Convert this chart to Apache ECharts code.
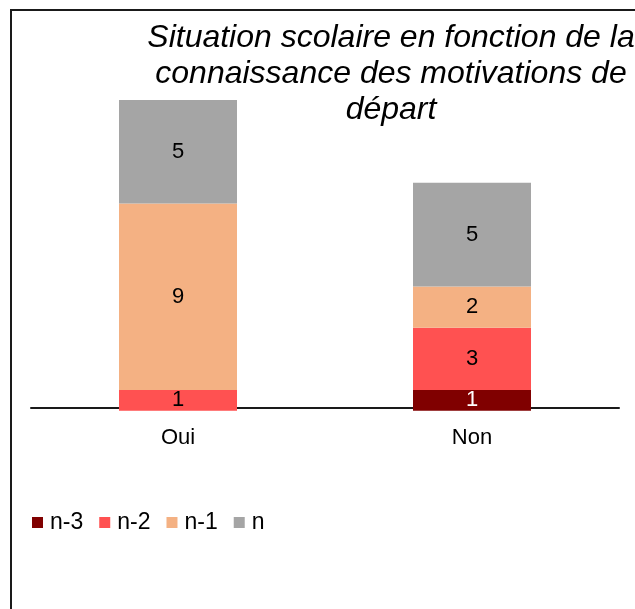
<!DOCTYPE html>
<html>
<head>
<meta charset="utf-8">
<script src="https://cdn.jsdelivr.net/npm/echarts@6/dist/echarts.min.js"></script>
<style>
  html, body { margin: 0; padding: 0; background: #fff; }
  #chart { width: 635px; height: 609px; }
</style>
</head>
<body>
<div id="chart"></div>
<script>
// Stacked counts per category (school situation vs. knowledge of departure reasons)
const categories = ['Oui', 'Non'];
const seriesNames = ['n-3', 'n-2', 'n-1', 'n'];
const valuesN3 = [0, 1];
const valuesN2 = [1, 3];
const valuesN1 = [9, 2];
const valuesN = [5, 5];
const titleText = 'Situation scolaire en fonction de la\nconnaissance des motivations de\ndépart';

const colors = ['#800000', '#FF5151', '#F4B183', '#A5A5A5'];
const labelColors = ['#ffffff', '#000000', '#000000', '#000000'];
const seriesValues = [valuesN3, valuesN2, valuesN1, valuesN];
const FONT = '"Liberation Sans", Arial, sans-serif';

const chart = echarts.init(document.getElementById('chart'), null, { renderer: 'canvas' });

chart.setOption({
  backgroundColor: '#ffffff',
  animation: false,
  textStyle: { fontFamily: FONT },
  grid: { left: 31, right: 16, top: 100, bottom: 198.3, containLabel: false },
  legend: {
    left: 27,
    top: 506,
    icon: 'rect',
    itemWidth: 11,
    itemHeight: 11,
    itemGap: 16,
    data: seriesNames,
    textStyle: { fontSize: 23, color: '#000', fontFamily: FONT, padding: [0, 0, 0, 2] }
  },
  xAxis: {
    type: 'category',
    data: categories,
    axisLine: { onZero: false, lineStyle: { color: '#1a1a1a', width: 2 } },
    offset: -3,
    axisTick: { show: false },
    axisLabel: { fontSize: 22, color: '#000', margin: 19, fontFamily: FONT }
  },
  yAxis: {
    type: 'value',
    min: 0,
    max: 15,
    show: false,
    splitLine: { show: false }
  },
  series: seriesNames.map((name, i) => ({
    name,
    type: 'bar',
    stack: 'total',
    barWidth: 118,
    data: seriesValues[i],
    itemStyle: { color: colors[i] },
    label: {
      show: true,
      position: 'inside',
      fontSize: 22,
      color: labelColors[i],
      fontFamily: FONT,
      formatter: p => (p.value ? String(p.value) : '')
    }
  })),
  graphic: [
    {
      type: 'polyline',
      shape: { points: [[11, 609], [11, 10], [640, 10]] },
      style: { stroke: '#1a1a1a', lineWidth: 2, fill: null },
      silent: true
    },
    {
      type: 'text',
      x: 391,
      y: 20,
      style: {
        text: titleText,
        font: 'italic 32px ' + FONT,
        fill: '#000',
        align: 'center',
        verticalAlign: 'top',
        lineHeight: 36
      },
      silent: true
    }
  ]
});
</script>
</body>
</html>
